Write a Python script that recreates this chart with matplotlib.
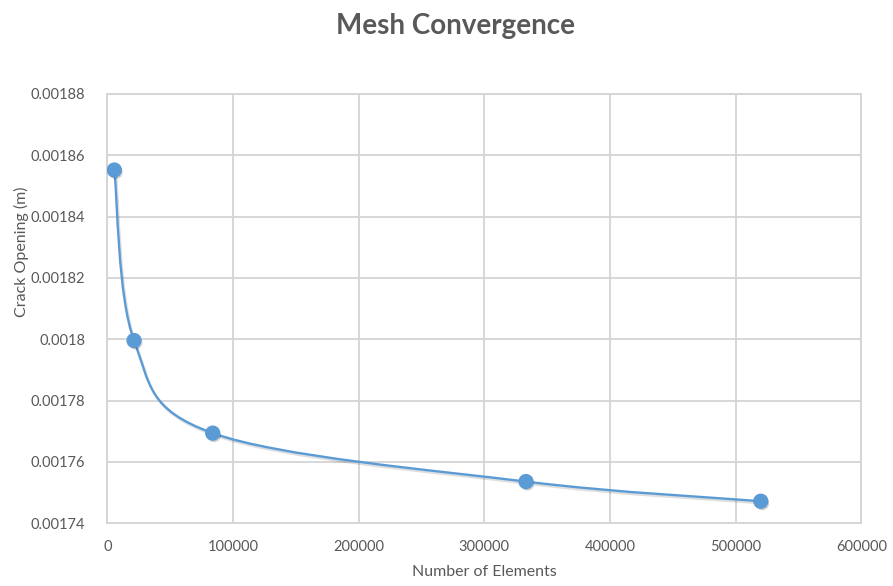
import matplotlib
matplotlib.use("Agg")
import matplotlib.pyplot as plt
import matplotlib.patheffects as pe
from matplotlib.path import Path
from matplotlib.patches import PathPatch
from matplotlib.ticker import FuncFormatter

# mesh study results
elements = [5570, 21240, 83870, 333100, 519900]
crack_opening = [0.0018552, 0.0017996, 0.0017694, 0.0017536, 0.0017472]

x_ticks = [0, 100000, 200000, 300000, 400000, 500000, 600000]
y_ticks = [0.00174, 0.00176, 0.00178, 0.0018, 0.00182, 0.00184, 0.00186, 0.00188]

blue = "#5B9BD5"
grey_text = "#595959"
grid_col = "#D4D4D4"

plt.rcParams["font.family"] = ["Lato", "DejaVu Sans"]

fig = plt.figure(figsize=(8.93, 5.86), dpi=100)
ax = fig.add_axes([0.1202, 0.1070, 0.8445, 0.7326])

ax.set_xlim(0, 600000)
ax.set_ylim(0.00174, 0.00188)
ax.set_xticks(x_ticks)
ax.set_yticks(y_ticks)
ax.xaxis.set_major_formatter(FuncFormatter(lambda v, p: f"{int(v)}"))
ax.yaxis.set_major_formatter(FuncFormatter(lambda v, p: f"{v:.5f}".rstrip("0")))
ax.tick_params(axis="x", length=0, labelsize=10.5, labelcolor=grey_text, pad=12)
ax.tick_params(axis="y", length=0, labelsize=10.5, labelcolor=grey_text, pad=16)
ax.grid(True, color=grid_col, lw=1.3)
for s in ax.spines.values():
    s.set_color(grid_col)
    s.set_linewidth(1.3)
ax.set_axisbelow(True)

# smoothed line: cubic bezier segments, control points from neighbours (/6)
pts = list(zip(elements, crack_opening))
verts = [pts[0]]
codes = [Path.MOVETO]
n = len(pts)
for i in range(n - 1):
    p0 = pts[max(i - 1, 0)]
    p1 = pts[i]
    p2 = pts[i + 1]
    p3 = pts[min(i + 2, n - 1)]
    c1 = (p1[0] + (p2[0] - p0[0]) / 6, p1[1] + (p2[1] - p0[1]) / 6)
    c2 = (p2[0] - (p3[0] - p1[0]) / 6, p2[1] - (p3[1] - p1[1]) / 6)
    verts += [c1, c2, p2]
    codes += [Path.CURVE4] * 3

shadow = [pe.SimpleLineShadow(offset=(1, -1.5), shadow_color="black", alpha=0.13),
          pe.Normal()]
curve = PathPatch(Path(verts, codes), facecolor="none", edgecolor=blue, lw=1.7,
                  path_effects=shadow, zorder=3)
ax.add_patch(curve)

ax.plot(elements, crack_opening, ls="none", marker="o", ms=10, color=blue,
        mec=blue, zorder=4,
        path_effects=[pe.SimplePatchShadow(offset=(1, -1.5), shadow_rgbFace="black",
                                           alpha=0.18), pe.Normal()])

ax.set_xlabel("Number of Elements", fontsize=11.5, color=grey_text)
ax.set_ylabel("Crack Opening (m)", fontsize=11.5, color=grey_text)
ax.xaxis.set_label_coords(0.5, -0.097)
ax.yaxis.set_label_coords(-0.104, 0.632)
fig.text(0.51, 0.955, "Mesh Convergence", ha="center", va="center",
         fontsize=20, fontweight="bold", color=grey_text)

fig.savefig("out.png", dpi=100)
